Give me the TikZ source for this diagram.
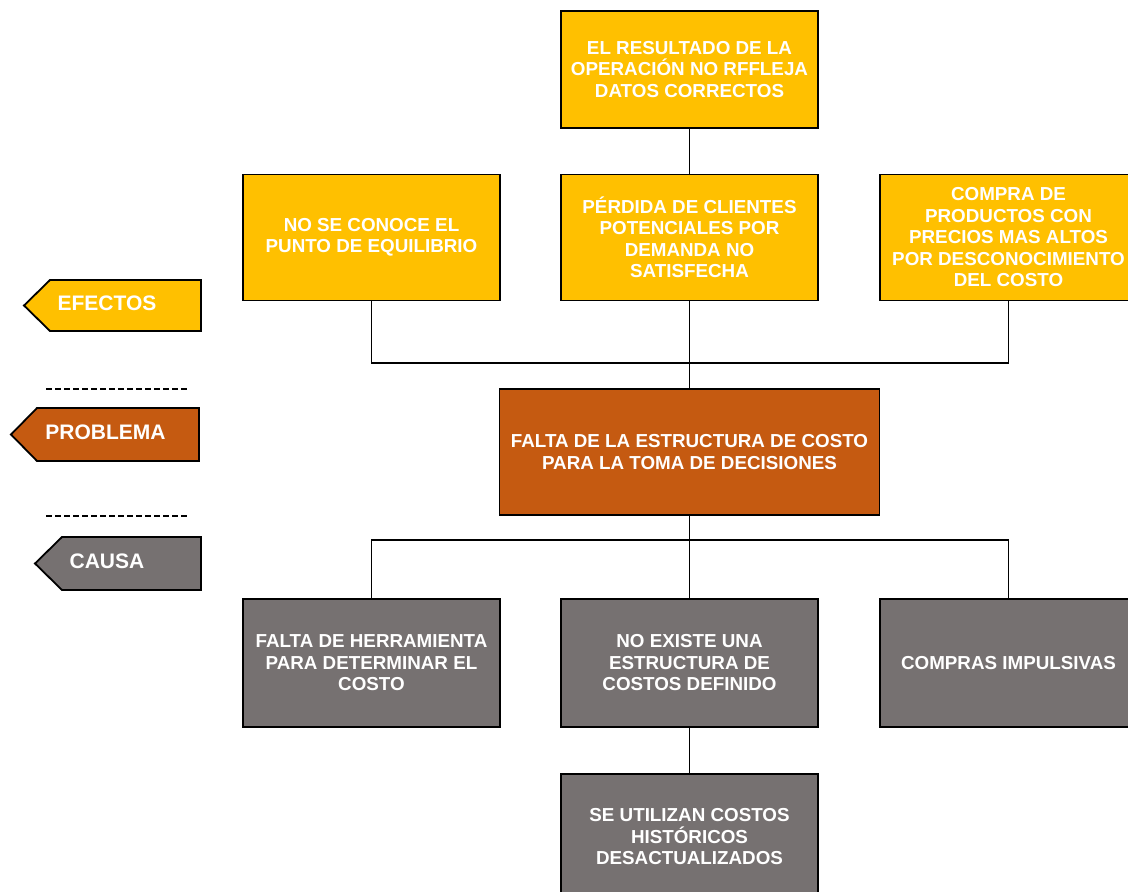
\documentclass[tikz,border=0pt]{standalone}
\usepackage{fontspec}
\setmainfont{Liberation Sans}
\usetikzlibrary{positioning}

\definecolor{efyellow}{HTML}{FFC000}
\definecolor{proborange}{HTML}{C55A11}
\definecolor{causagray}{HTML}{767171}

\newcommand\boxfont{\fontsize{18.8}{21.5}\selectfont\bfseries}
\newcommand\tagfont{\fontsize{21}{24}\selectfont\bfseries}

\begin{document}
\begin{tikzpicture}[
    x=1pt, y=-1pt,
    box/.style={draw=black, line width=1.8pt, minimum width=257pt, minimum height=126pt, align=center, text=white, font=\boxfont, inner sep=2pt},
    efecto/.style={box, fill=efyellow},
    problema/.style={box, fill=proborange, minimum width=380pt},
    causa/.style={box, fill=causagray},
    tagshape/.style={draw=black, line width=1.8pt},
    tag/.style={text=white, font=\tagfont, inner sep=0pt},
    link/.style={draw=black, line width=1.6pt},
    sep/.style={draw=black, line width=1.8pt, dash pattern=on 6pt off 3pt}
]
\useasboundingbox (0,0) rectangle (1128,892);

% efectos
\node[efecto, minimum height=117pt] (top) at (689.5,69.5) {EL RESULTADO DE LA\\OPERACI\'ON NO RFFLEJA\\DATOS CORRECTOS};
\node[efecto] (ef1) at (371.5,237.5) {NO SE CONOCE EL\\PUNTO DE EQUILIBRIO};
\node[efecto] (ef2) at (689.5,237.5) {P\'ERDIDA DE CLIENTES\\POTENCIALES POR\\DEMANDA NO\\SATISFECHA};
\node[efecto] (ef3) at (1008.5,237.5) {COMPRA DE\\PRODUCTOS CON\\PRECIOS MAS ALTOS\\POR DESCONOCIMIENTO\\DEL COSTO};

% problema
\node[problema] (prob) at (689.5,452) {FALTA DE LA ESTRUCTURA DE COSTO\\PARA LA TOMA DE DECISIONES};

% causas
\node[causa, minimum height=128pt] (ca1) at (371.5,663) {FALTA DE HERRAMIENTA\\PARA DETERMINAR EL\\COSTO};
\node[causa, minimum height=128pt] (ca2) at (689.5,663) {NO EXISTE UNA\\ESTRUCTURA DE\\COSTOS DEFINIDO};
\node[causa, minimum height=128pt] (ca3) at (1008.5,663) {COMPRAS IMPULSIVAS};
\node[causa] (ca4) at (689.5,837) {SE UTILIZAN COSTOS\\HIST\'ORICOS\\DESACTUALIZADOS};

% conectores
\coordinate (busup) at (689.5,363);
\coordinate (busdown) at (689.5,540);
\draw[link] (top.south) -- (ef2.north);
\draw[link] (ef1.south) |- (busup) -| (ef3.south);
\draw[link] (ef2.south) -- (prob.north);
\draw[link] (prob.south) -- (ca2.north);
\draw[link] (ca1.north) |- (busdown) -| (ca3.north);
\draw[link] (ca2.south) -- (ca4.north);

% etiquetas
\draw[tagshape, fill=efyellow] (201,280) -- (50,280) -- (24,305.5) -- (50,331) -- (201,331) -- cycle;
\node[tag] (efectos) at (107,303.5) {EFECTOS};
\draw[tagshape, fill=proborange] (199,408) -- (37,408) -- (11,434.5) -- (37,461) -- (199,461) -- cycle;
\node[tag] (problem) at (105.5,432) {PROBLEMA};
\draw[tagshape, fill=causagray] (201,537) -- (62,537) -- (35,563.5) -- (62,590) -- (201,590) -- cycle;
\node[tag] (causa) at (107,561.5) {CAUSA};

\draw[sep] (46,389) -- (189,389);
\draw[sep] (46,516) -- (189,516);
\end{tikzpicture}
\end{document}
